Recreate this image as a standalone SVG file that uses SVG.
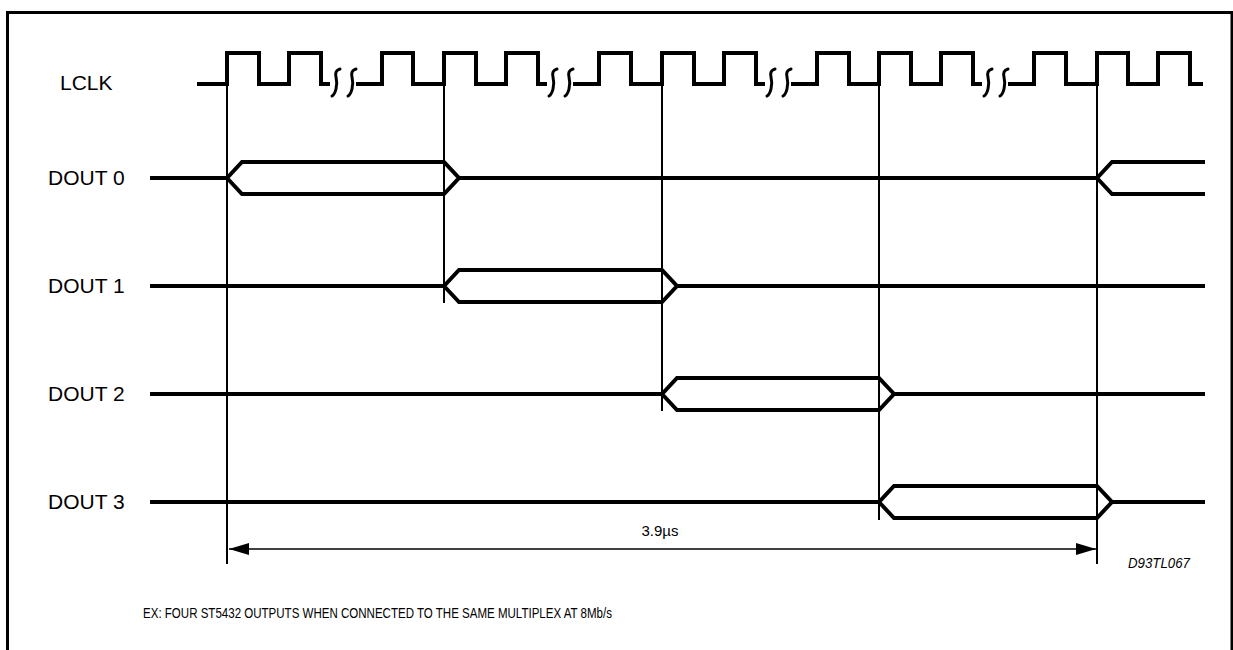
<svg xmlns="http://www.w3.org/2000/svg" width="1233" height="650" viewBox="0 0 1233 650">
<style>
.lbl{font-family:"Liberation Sans",Arial,sans-serif;font-size:21px;fill:#000}
.sm{font-family:"Liberation Sans",Arial,sans-serif;font-size:15px;fill:#000}
.sig{fill:none;stroke:#000;stroke-width:4;stroke-linejoin:miter;stroke-linecap:butt}
.brk{fill:none;stroke:#000;stroke-width:3;stroke-linecap:round}
.mk{fill:none;stroke:#000;stroke-width:2}
.dim{fill:none;stroke:#000;stroke-width:1.6}
</style>
<defs>
<marker id="ah" viewBox="0 0 20 12" refX="20" refY="6" markerWidth="20" markerHeight="12" markerUnits="userSpaceOnUse" orient="auto-start-reverse">
<path d="M0,0 L20,6 L0,12 Z" fill="#000"/>
</marker>
<path id="sq" d="M4,-14 C0,-13 -1,-10 0,-6 C1,-2 1,2 0,6 C-1,10 -2,12 -4,13"/>
</defs>
<rect width="1233" height="650" fill="#fff"/>
<g id="frame">
<path d="M7.5,650 V12.5 H1232 V650" fill="none" stroke="#000" stroke-width="3"/>
</g>
<g id="labels">
<text class="lbl" x="60" y="90">LCLK</text>
<text class="lbl" x="48" y="185">DOUT 0</text>
<text class="lbl" x="48" y="293">DOUT 1</text>
<text class="lbl" x="48" y="401">DOUT 2</text>
<text class="lbl" x="48" y="509">DOUT 3</text>
</g>
<g id="lclk">
<path class="sig" d="M197,84 H227 V53 H259 V84 H289 V53 H321 V84 H330"/>
<path class="sig" d="M356,84 H382 V53 H413 V84 H444 V53 H476 V84 H506 V53 H538 V84 H547"/>
<path class="sig" d="M573,84 H599 V53 H631 V84 H662 V53 H694 V84 H724 V53 H756 V84 H765"/>
<path class="sig" d="M791,84 H817 V53 H849 V84 H879 V53 H911 V84 H941 V53 H973 V84 H982"/>
<path class="sig" d="M1008,84 H1034 V53 H1066 V84 H1097 V53 H1128 V84 H1158 V53 H1190 V84 H1203"/>
<g id="breaks" class="brk">
<use href="#sq" x="336" y="83"/>
<use href="#sq" x="352" y="83"/>
<use href="#sq" x="553" y="83"/>
<use href="#sq" x="569" y="83"/>
<use href="#sq" x="771" y="83"/>
<use href="#sq" x="787" y="83"/>
<use href="#sq" x="988" y="83"/>
<use href="#sq" x="1004" y="83"/>
</g>
</g>
<g id="dout0">
<path class="sig" d="M150,178 H227 L242,162 H444 L459,178 L444,194 H242 L227,178"/>
<path class="sig" d="M459,178 H1097 L1112,162 H1205 M1097,178 L1112,194 H1205"/>
</g>
<g id="dout1">
<path class="sig" d="M150,286 H444 L459,270 H662 L677,286 L662,302 H459 L444,286"/>
<path class="sig" d="M677,286 H1205"/>
</g>
<g id="dout2">
<path class="sig" d="M150,394 H662 L677,378 H879 L894,394 L879,410 H677 L662,394"/>
<path class="sig" d="M894,394 H1205"/>
</g>
<g id="dout3">
<path class="sig" d="M150,502 H879 L894,486 H1097 L1112,502 L1097,518 H894 L879,502"/>
<path class="sig" d="M1112,502 H1205"/>
</g>
<g id="connectors">
<path class="mk" d="M227,84 V564 M444,84 V303 M662,84 V411 M879,84 V520 M1097,84 V564"/>
<path class="dim" d="M229,549 H1096" marker-start="url(#ah)" marker-end="url(#ah)"/>
</g>
<g id="annotations">
<text class="sm" x="660" y="536" text-anchor="middle">3.9µs</text>
<text class="sm" x="1128" y="568" font-style="italic" font-size="13" textLength="62" lengthAdjust="spacingAndGlyphs">D93TL067</text>
<text class="sm" x="143" y="618" font-size="16" textLength="469" lengthAdjust="spacingAndGlyphs">EX:  FOUR ST5432 OUTPUTS WHEN CONNECTED TO THE SAME MULTIPLEX AT 8Mb/s</text>
</g>
</svg>
